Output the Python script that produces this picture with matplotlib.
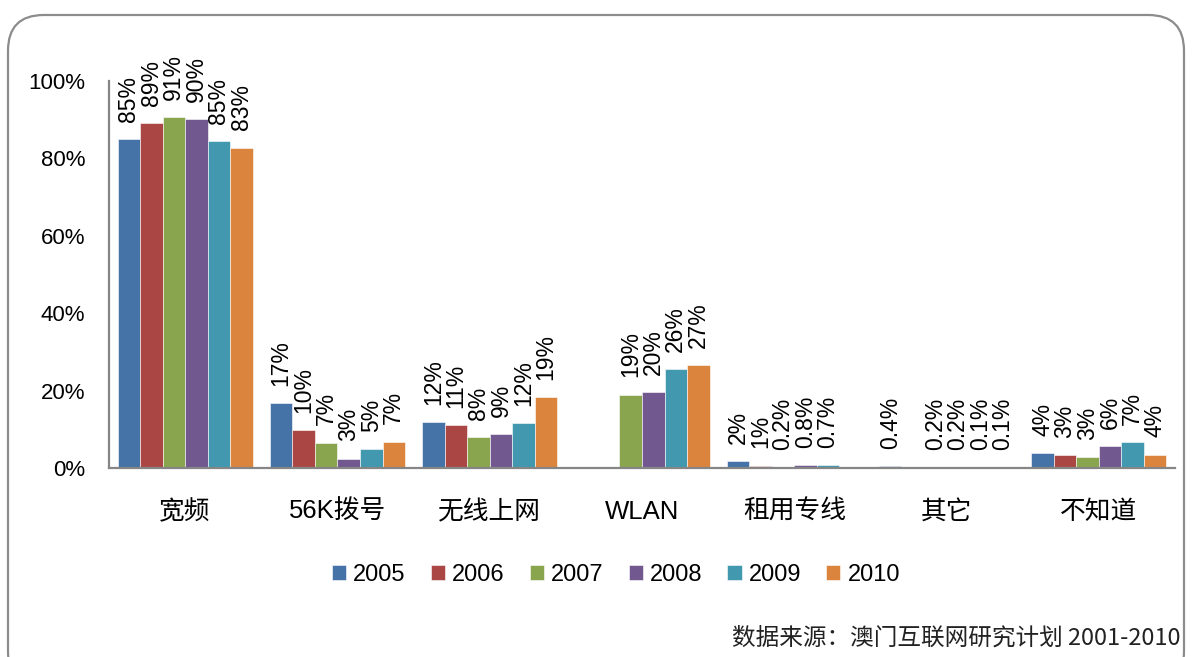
import numpy as np
import matplotlib
matplotlib.use("Agg")
import matplotlib.pyplot as plt
from matplotlib.patches import FancyBboxPatch

plt.rcParams['font.family'] = ['Liberation Sans', 'Noto Sans CJK SC']

categories = ['宽频', '56K拨号', '无线上网', 'WLAN', '租用专线', '其它', '不知道']
years = ['2005', '2006', '2007', '2008', '2009', '2010']
nan = np.nan
v2005 = [85.0, 16.8, 11.9, nan, 1.8, 0.4, 3.8]
v2006 = [89.1, 9.8, 11.1, nan, 0.6, nan, 3.3]
v2007 = [90.6, 6.5, 8.0, 18.9, 0.2, 0.2, 2.8]
v2008 = [90.1, 2.4, 8.8, 19.6, 0.8, 0.2, 5.6]
v2009 = [84.5, 4.9, 11.6, 25.6, 0.7, 0.1, 6.6]
v2010 = [82.8, 6.8, 18.3, 26.6, nan, 0.1, 3.4]
l2005 = ['85%', '17%', '12%', '', '2%', '0.4%', '4%']
l2006 = ['89%', '10%', '11%', '', '1%', '', '3%']
l2007 = ['91%', '7%', '8%', '19%', '0.2%', '0.2%', '3%']
l2008 = ['90%', '3%', '9%', '20%', '0.8%', '0.2%', '6%']
l2009 = ['85%', '5%', '12%', '26%', '0.7%', '0.1%', '7%']
l2010 = ['83%', '7%', '19%', '27%', '', '0.1%', '4%']
values = [v2005, v2006, v2007, v2008, v2009, v2010]
labels = [l2005, l2006, l2007, l2008, l2009, l2010]
colors = ['#4572A7', '#AA4643', '#89A54E', '#71588F', '#4198AF', '#DB843D']
source = '数据来源：澳门互联网研究计划 2001-2010'

W, H = 1193, 657
fig = plt.figure(figsize=(W / 100, H / 100), dpi=100)

# rounded border
border = FancyBboxPatch((8 / W, -30 / H), (1184 - 8) / W, (H - 15 + 30) / H,
                        boxstyle="round,pad=0,rounding_size=0.03",
                        transform=fig.transFigure, fill=False,
                        edgecolor='#8c8c8c', linewidth=1.6, mutation_aspect=W / H)
fig.patches.append(border)

ax = fig.add_axes([109 / W, 1 - 468 / H, (1175 - 109) / W, (468 - 81) / H])
x = np.arange(len(categories))
bw = 0.148
for i, (vals, labs, col, yr) in enumerate(zip(values, labels, colors, years)):
    xs = x + (i - 2.5) * bw
    vals = np.array(vals, dtype=float)
    ax.bar(xs, vals, width=bw, color=col, label=yr, edgecolor='white', linewidth=0.4)
    for xi, v, lab in zip(xs, vals, labs):
        if lab and not np.isnan(v):
            ax.annotate(lab, (xi, v), xytext=(0, 12.5), textcoords='offset points',
                        rotation=90, ha='center', va='bottom', fontsize=16.5,
                        annotation_clip=False)

ax.set_xlim(-0.5, len(categories) - 0.5)
ax.set_ylim(0, 100)
ax.set_yticks([0, 20, 40, 60, 80, 100])
ax.set_yticklabels(['0%', '20%', '40%', '60%', '80%', '100%'], fontsize=16)
ax.set_xticks(x)
ax.set_xticklabels(categories, fontsize=18.5)
ax.tick_params(axis='y', length=0, pad=17)
ax.tick_params(axis='x', length=0, pad=23)
for s in ['top', 'right']:
    ax.spines[s].set_visible(False)
for s in ['left', 'bottom']:
    ax.spines[s].set_color('#868686')
    ax.spines[s].set_linewidth(1.6)

fig.legend(loc='center', bbox_to_anchor=(616 / W, 1 - 575 / H), ncol=6,
           frameon=False, fontsize=17, handlelength=0.6, handleheight=0.6,
           handletextpad=0.3, columnspacing=1.06)

fig.text(1180 / W, 1 - 638 / H, source, ha='right', va='center', fontsize=17,
         family=['Noto Sans CJK SC'], color='#222222')

fig.savefig('out.png', dpi=100)
